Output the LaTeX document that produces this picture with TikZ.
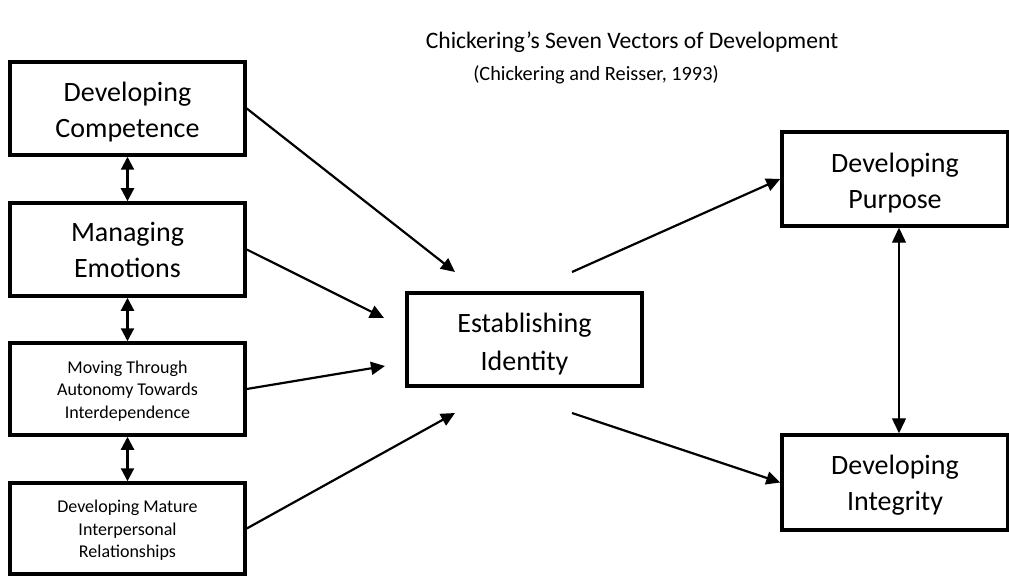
\documentclass[tikz,border=0pt]{standalone}
\usepackage{fontspec}
\setmainfont{Carlito}
\usetikzlibrary{arrows.meta}
\newcommand\bt[2][-4pt]{\raisebox{#1}[\height][\depth]{\begin{tabular}{@{}c@{}}#2\end{tabular}}}
\begin{document}
\begin{tikzpicture}[x=1pt,y=-1pt,
  box/.style={draw, line width=3.5pt, inner sep=0pt, align=center,
    font=\fontsize{28}{36}\selectfont},
  smallbox/.style={box, font=\fontsize{18}{22.5}\selectfont},
  conn/.style={line width=2.2pt, -{Triangle[length=14pt,width=13pt]}},
  dbl/.style={line width=2.2pt, {Triangle[length=13pt,width=13pt]}-{Triangle[length=13pt,width=13pt]}},
  thindbl/.style={line width=1.4pt, {Triangle[length=15pt,width=14pt]}-{Triangle[length=15pt,width=14pt]}}
]
\useasboundingbox[fill=white] (0,0) rectangle (1009,577);

\node[font=\fontsize{23.6}{28}\selectfont] (title) at (632,42) {Chickering’s Seven Vectors of Development};
\node[font=\fontsize{20.3}{24}\selectfont] (sub) at (596,75) {(Chickering and Reisser, 1993)};

\node[box, minimum width=235pt, minimum height=93pt] (c1) at (127.5,108.5) {\bt{Developing\\Competence}};
\node[box, minimum width=235pt, minimum height=93pt] (c2) at (127.5,249.5) {\bt[-3pt]{Managing\\Emotions}};
\node[smallbox, minimum width=235pt, minimum height=92pt] (c3) at (127.5,389) {\bt[-2pt]{Moving Through\\Autonomy Towards\\Interdependence}};
\node[smallbox, minimum width=235pt, minimum height=91pt] (c4) at (127.5,528.5) {\bt[-2pt]{Developing Mature\\Interpersonal\\Relationships}};

\node[box, minimum width=235pt, minimum height=93pt, font=\fontsize{28}{38}\selectfont] (id) at (524.5,339.5) {\bt[-4pt]{Establishing\\Identity}};

\node[box, minimum width=226pt, minimum height=94pt] (pu) at (895,179) {\bt[-4pt]{Developing\\Purpose}};
\node[box, minimum width=226pt, minimum height=95pt] (in) at (895,482.5) {\bt[-3pt]{Developing\\Integrity}};

\coordinate (e1) at (455,272);
\coordinate (e2) at (384,318);
\coordinate (e3) at (385,366);
\coordinate (e4) at (455,413);
\coordinate (s5) at (572,272);
\coordinate (s6) at (572,413);

\draw[dbl] (c1.south) -- (c2.north);
\draw[dbl] (c2.south) -- (c3.north);
\draw[dbl] (c3.south) -- (c4.north);

\draw[conn] (c1.east) -- (e1);
\draw[conn] (c2.east) -- (e2);
\draw[conn] (c3.east) -- (e3);
\draw[conn] (c4.east) -- (e4);

\draw[conn] (s5) -- (pu.west);
\draw[conn] (s6) -- (in.west);

\draw[thindbl] ([xshift=4pt]pu.south) -- ([xshift=4pt]in.north);
\end{tikzpicture}
\end{document}
